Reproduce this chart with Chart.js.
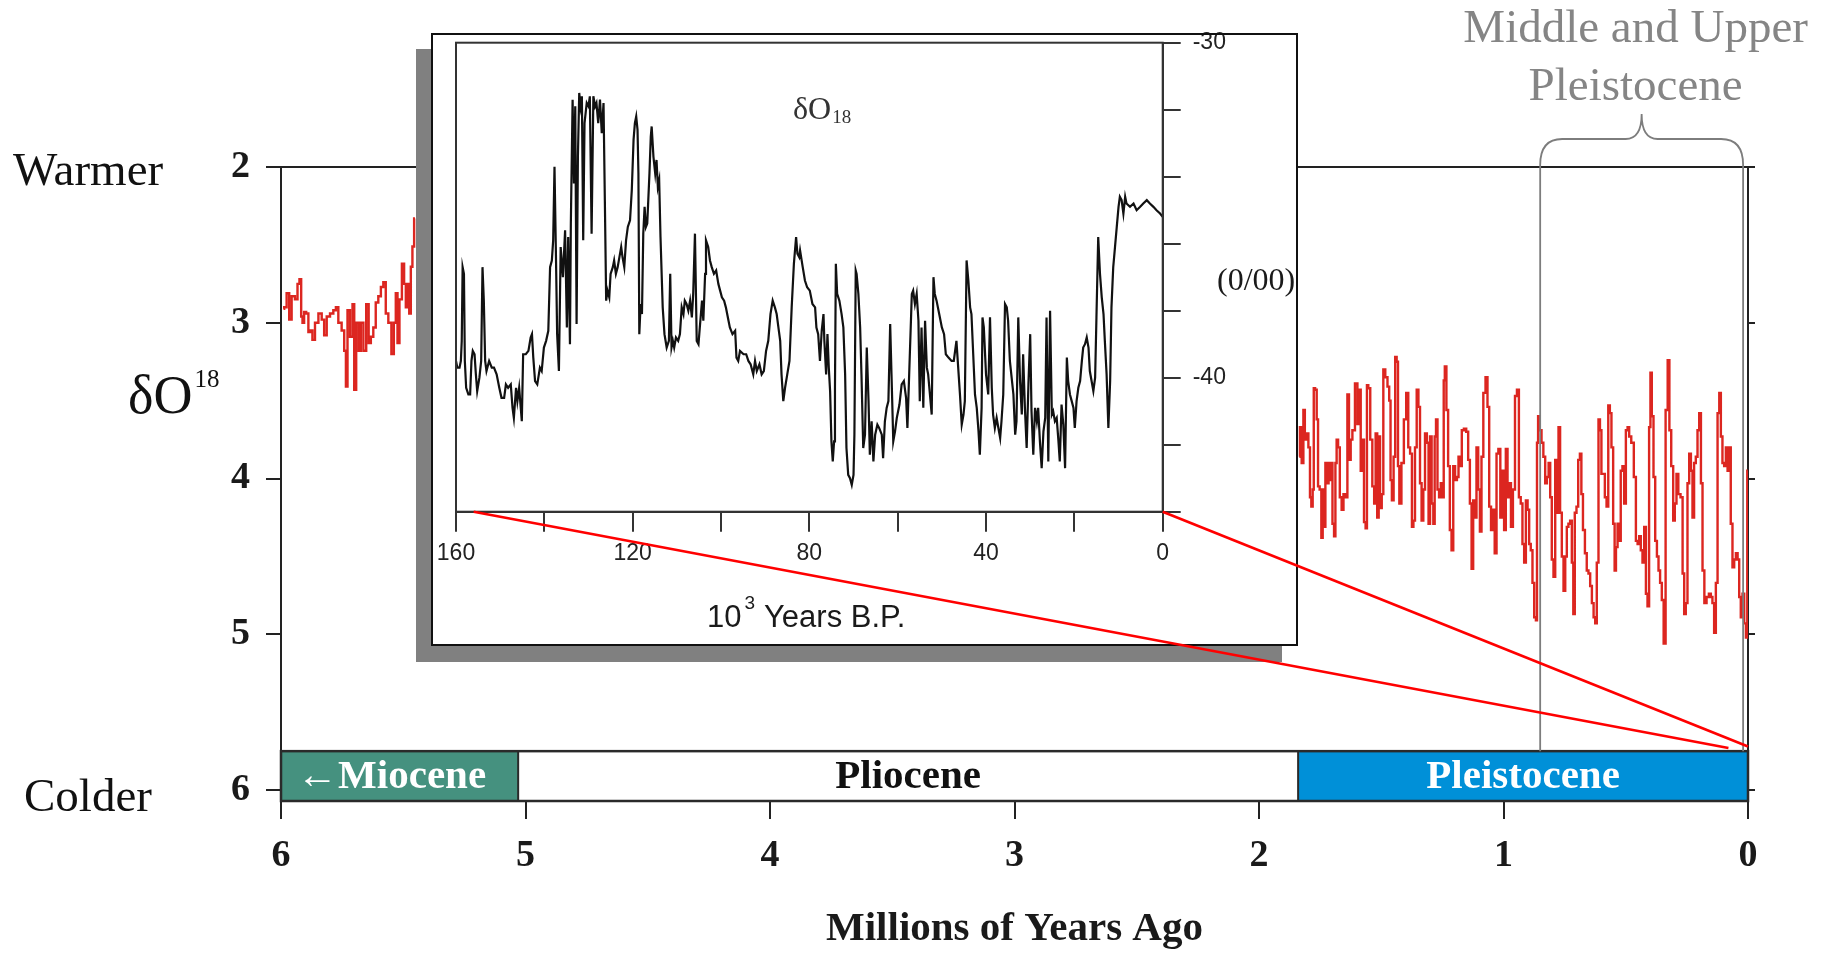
<!DOCTYPE html>
<html lang="en">
<head>
<meta charset="UTF-8">
<title>Deep sea δO18 and ice core δO18</title>
<style>
  html, body { margin: 0; padding: 0; background: #fff; overflow: hidden; }
  #wrap { position: relative; width: 1821px; height: 954px; }
  #wrap canvas { position: absolute; left: 0; top: 0; display: block; }
</style>
</head>
<body>
<div id="wrap">
  <canvas id="mainChart" width="1821" height="954"></canvas>
  <canvas id="insetChart" width="1821" height="954"></canvas>
</div>
<script src="https://cdn.jsdelivr.net/npm/chart.js@4.4.1/dist/chart.umd.min.js"></script>
<script>
// main axis: millions of years ago / deltaO18
const ageTicks = [6, 5, 4, 3, 2, 1, 0];
const deltaTicks = [2, 3, 4, 5, 6];

// epochs on the bar at the bottom
const epochNames = ['\u2190Miocene', 'Pliocene', 'Pleistocene'];
const epochFrom = [6, 5.03, 1.84];
const epochTo = [5.03, 1.84, 0];
const epochFill = ['#45917f', '#ffffff', '#0090d8'];
const epochInk = ['#ffffff', '#111111', '#ffffff'];

// bracket "Middle and Upper Pleistocene" (Ma)
const bracketSpan = [0.85, 0.02];

// inset axes: 10^3 years B.P. / per mil
const iceTicks = [160, 140, 120, 100, 80, 60, 40, 20, 0];
const iceLabels = [160, 120, 80, 40, 0];
const isoTicks = [-44, -42, -40, -38, -36, -34, -32, -30];
const isoLabels = [-40, -30];

// red lines tying the inset to the last part of the record
const zoomFromKyr = [0, 156];
const zoomToMa = [0, 0.08];
const zoomToDelta = [5.72, 5.73];

// deep sea record, [Ma, deltaO18], part left of the inset
const oldRecord = [
  [5.99,2.91],[5.984,2.90],[5.97,2.81],[5.963,2.98],[5.95,2.83],[5.936,2.85],[5.929,2.75],[5.92,2.72],
  [5.915,2.96],[5.909,3.00],[5.902,2.93],[5.892,2.94],[5.884,3.06],[5.875,3.05],[5.868,3.11],[5.854,3.00],
  [5.84,2.94],[5.827,2.98],[5.82,3.08],[5.806,2.96],[5.793,2.94],[5.779,2.92],[5.772,2.90],[5.759,3.00],
  [5.745,3.05],[5.738,3.18],[5.731,3.41],[5.725,2.92],[5.711,3.09],[5.704,2.88],[5.697,3.43],[5.688,3.00],
  [5.677,3.18],[5.67,3.00],[5.656,3.18],[5.647,2.88],[5.636,3.13],[5.629,3.09],[5.616,3.03],[5.609,2.87],
  [5.595,2.83],[5.588,2.77],[5.575,2.74],[5.568,2.94],[5.554,3.00],[5.543,3.20],[5.534,3.00],[5.527,2.81],
  [5.52,3.13],[5.511,2.85],[5.5,2.62],[5.493,2.75],[5.486,2.90],[5.479,2.75],[5.472,2.94],[5.466,2.64],
  [5.459,2.51],[5.452,2.33]
];

// deep sea record, part right of the inset
const youngRecord = [
  [1.835,3.86],[1.830,3.67],[1.821,3.90],[1.816,3.56],[1.809,3.75],[1.802,3.71],[1.794,3.80],[1.789,4.12],
  [1.783,4.18],[1.778,4.07],[1.774,3.42],[1.767,3.43],[1.761,3.62],[1.756,4.05],[1.748,4.07],[1.742,4.38],
  [1.737,4.07],[1.731,4.31],[1.726,3.90],[1.719,4.03],[1.712,3.90],[1.707,4.01],[1.703,3.90],[1.696,4.29],
  [1.690,4.37],[1.685,3.90],[1.680,3.75],[1.673,3.80],[1.666,4.12],[1.658,4.20],[1.651,4.10],[1.641,4.12],
  [1.636,3.46],[1.628,3.88],[1.622,3.75],[1.614,3.69],[1.601,3.39],[1.594,3.65],[1.587,3.43],[1.581,3.95],
  [1.573,3.75],[1.568,4.28],[1.560,4.32],[1.557,3.40],[1.549,3.42],[1.541,3.75],[1.532,4.05],[1.526,4.16],
  [1.520,3.71],[1.513,4.25],[1.508,3.73],[1.502,4.19],[1.494,4.10],[1.489,3.30],[1.478,3.35],[1.471,3.41],
  [1.464,3.50],[1.460,4.01],[1.453,4.14],[1.446,3.86],[1.440,3.22],[1.434,3.25],[1.429,3.92],[1.423,4.16],
  [1.412,3.90],[1.403,3.62],[1.393,3.45],[1.386,3.80],[1.378,3.84],[1.371,4.31],[1.366,4.27],[1.358,3.80],
  [1.352,3.43],[1.344,3.54],[1.339,4.03],[1.331,4.27],[1.325,4.07],[1.317,3.71],[1.310,3.77],[1.303,4.29],
  [1.298,3.73],[1.290,4.16],[1.284,4.29],[1.279,3.73],[1.273,3.62],[1.267,4.07],[1.260,4.12],[1.253,4.03],
  [1.246,4.12],[1.243,3.37],[1.237,3.28],[1.230,3.56],[1.223,3.92],[1.216,4.33],[1.209,4.46],[1.202,3.92],
  [1.194,4.01],[1.187,3.99],[1.181,3.86],[1.174,3.92],[1.167,3.69],[1.157,3.68],[1.148,3.70],[1.141,3.88],
  [1.134,4.16],[1.127,4.58],[1.121,4.14],[1.114,4.25],[1.107,3.80],[1.100,4.07],[1.093,4.34],[1.087,3.86],
  [1.078,3.45],[1.069,3.35],[1.062,3.54],[1.055,4.18],[1.047,4.33],[1.040,4.20],[1.032,4.48],[1.025,3.84],
  [1.017,3.81],[1.009,4.25],[1.001,3.95],[0.994,4.33],[0.987,3.81],[0.980,4.12],[0.973,4.03],[0.966,4.31],
  [0.957,4.07],[0.949,3.47],[0.941,3.43],[0.933,4.12],[0.926,4.16],[0.919,4.42],[0.912,4.54],[0.905,4.14],
  [0.898,4.20],[0.892,4.42],[0.885,4.46],[0.878,4.67],[0.871,4.89],[0.864,4.91],[0.862,3.77],[0.855,3.60],
  [0.848,3.69],[0.841,3.77],[0.833,3.86],[0.826,4.03],[0.819,3.99],[0.812,3.90],[0.806,4.12],[0.799,4.52],
  [0.792,4.63],[0.785,3.88],[0.778,4.22],[0.772,3.67],[0.765,4.22],[0.758,4.50],[0.751,4.72],[0.744,4.50],
  [0.738,4.31],[0.731,4.29],[0.724,4.27],[0.717,4.54],[0.712,4.87],[0.705,4.22],[0.698,4.18],[0.691,3.88],
  [0.684,3.84],[0.679,4.10],[0.671,4.33],[0.663,4.48],[0.656,4.59],[0.649,4.61],[0.642,4.69],[0.635,4.80],
  [0.628,4.89],[0.622,4.93],[0.615,4.54],[0.608,3.62],[0.603,3.69],[0.596,3.97],[0.589,3.97],[0.582,4.12],
  [0.575,4.18],[0.568,3.53],[0.562,3.58],[0.555,3.80],[0.548,4.29],[0.543,4.59],[0.537,4.44],[0.530,4.29],
  [0.524,4.40],[0.517,3.95],[0.510,3.92],[0.503,4.16],[0.496,3.69],[0.489,3.67],[0.483,3.73],[0.472,3.77],
  [0.462,3.99],[0.455,4.40],[0.448,4.42],[0.442,4.37],[0.435,4.46],[0.428,4.54],[0.421,4.31],[0.414,4.74],
  [0.408,4.82],[0.401,3.67],[0.397,3.32],[0.390,3.60],[0.383,3.99],[0.376,4.40],[0.369,4.50],[0.363,4.59],
  [0.356,4.67],[0.349,4.78],[0.341,5.06],[0.333,3.56],[0.324,3.24],[0.319,3.69],[0.309,3.92],[0.303,4.27],
  [0.296,4.16],[0.289,3.97],[0.281,4.10],[0.271,4.12],[0.264,4.61],[0.258,4.87],[0.251,4.80],[0.244,4.03],
  [0.237,3.84],[0.230,3.95],[0.224,4.25],[0.217,3.90],[0.210,3.86],[0.203,3.69],[0.196,3.58],[0.189,4.03],
  [0.183,4.59],[0.174,4.80],[0.165,4.76],[0.155,4.74],[0.149,4.76],[0.142,4.80],[0.135,4.99],[0.128,4.67],
  [0.121,3.58],[0.114,3.45],[0.108,3.73],[0.101,3.90],[0.094,3.92],[0.087,3.80],[0.080,3.95],[0.074,3.80],
  [0.067,4.29],[0.060,4.57],[0.053,4.52],[0.046,4.48],[0.039,4.52],[0.033,4.76],[0.026,4.89],[0.019,4.74],
  [0.012,4.93],[0.005,5.02],[0.001,3.95]
];

// ice core record for the inset, [10^3 years B.P., per mil]
const iceRecord = [
  [160.0,-39.5],[159.7,-39.7],[159.2,-39.7],[158.9,-39.5],[158.7,-38.9],[158.5,-36.7],[158.2,-36.9],[158.0,-39.5],
  [157.7,-40.3],[157.2,-40.5],[156.8,-40.5],[156.5,-39.5],[156.2,-39.2],[155.8,-39.3],[155.5,-39.9],[155.2,-40.4],
  [154.7,-40.0],[154.3,-39.5],[154.0,-36.7],[153.7,-37.7],[153.4,-39.5],[153.1,-39.8],[152.5,-39.5],[151.9,-39.7],
  [151.4,-39.7],[150.8,-39.9],[150.2,-40.3],[149.7,-40.6],[149.1,-40.6],[148.7,-40.2],[148.2,-40.3],[147.6,-40.2],
  [147.2,-40.9],[146.9,-41.2],[146.4,-40.3],[146.1,-40.7],[145.7,-40.3],[145.1,-41.3],[144.8,-39.3],[144.2,-39.3],
  [143.6,-39.2],[143.1,-38.8],[142.8,-38.7],[142.5,-39.4],[142.1,-40.1],[141.6,-40.2],[141.0,-39.7],[140.6,-39.8],
  [140.1,-39.1],[139.6,-38.9],[139.1,-38.6],[138.7,-36.7],[138.3,-36.5],[138.0,-35.9],[137.7,-33.7],[137.4,-36.1],
  [137.1,-38.7],[136.7,-39.8],[136.3,-36.1],[135.8,-37.0],[135.3,-35.6],[134.9,-38.5],[134.6,-35.8],[134.2,-39.0],
  [134.0,-35.4],[133.6,-31.7],[133.3,-34.2],[133.0,-31.9],[132.7,-38.4],[132.4,-33.4],[132.1,-31.5],[131.8,-31.9],
  [131.5,-31.6],[131.2,-35.9],[130.9,-32.4],[130.4,-31.8],[130.0,-31.9],[129.7,-31.6],[129.3,-35.7],[128.9,-31.6],
  [128.5,-31.9],[128.2,-31.8],[127.8,-32.4],[127.4,-31.7],[127.0,-32.7],[126.6,-31.8],[126.3,-34.7],[126.0,-37.7],
  [125.7,-37.4],[125.3,-37.6],[125.0,-36.9],[124.5,-36.7],[124.2,-36.5],[123.8,-36.9],[123.4,-36.7],[123.0,-36.4],
  [122.6,-36.1],[122.3,-36.4],[121.9,-36.7],[121.5,-35.9],[121.1,-35.5],[120.6,-35.3],[120.2,-34.4],[119.8,-32.9],
  [119.5,-32.4],[119.2,-32.2],[118.9,-32.6],[118.7,-33.9],[118.5,-38.7],[118.2,-37.8],[117.9,-38.1],[117.6,-35.7],
  [117.3,-34.9],[117.0,-35.5],[116.7,-35.4],[116.2,-33.9],[115.9,-32.8],[115.7,-32.5],[115.3,-33.4],[114.9,-33.9],
  [114.6,-33.5],[114.3,-34.3],[114.0,-34.1],[113.7,-35.8],[113.2,-37.9],[112.8,-38.7],[112.3,-39.1],[111.8,-38.9],
  [111.5,-36.9],[111.2,-39.1],[110.9,-38.9],[110.6,-39.1],[110.2,-38.8],[109.7,-38.9],[109.3,-38.7],[108.9,-37.9],
  [108.5,-38.1],[108.2,-37.7],[107.8,-37.8],[107.4,-38.0],[107.0,-37.7],[106.6,-38.2],[106.3,-37.5],[105.9,-35.7],
  [105.5,-38.9],[105.1,-39.0],[104.8,-38.5],[104.3,-37.7],[104.0,-38.3],[103.6,-36.9],[103.4,-35.9],[102.9,-36.1],
  [102.5,-36.5],[102.1,-36.7],[101.6,-36.9],[101.1,-36.8],[100.6,-37.2],[100.2,-37.4],[99.8,-37.6],[99.3,-37.7],
  [98.9,-37.9],[98.3,-38.3],[98.0,-38.5],[97.4,-38.7],[96.8,-38.6],[96.5,-39.4],[96.1,-39.5],[95.7,-39.2],
  [94.9,-39.3],[94.3,-39.3],[93.8,-39.5],[93.3,-39.6],[92.7,-39.9],[92.3,-39.5],[91.9,-39.8],[91.3,-39.6],
  [90.8,-39.9],[90.3,-39.8],[89.8,-39.2],[89.3,-38.9],[88.8,-38.1],[88.3,-37.7],[87.8,-37.9],[87.4,-38.1],
  [86.9,-38.6],[86.6,-38.9],[86.3,-39.9],[85.9,-40.7],[85.5,-40.3],[85.0,-39.9],[84.5,-39.5],[84.0,-37.9],
  [83.5,-36.6],[83.0,-35.8],[82.7,-36.3],[82.3,-36.4],[82.1,-36.2],[81.5,-36.7],[81.0,-37.1],[80.5,-37.3],
  [79.9,-37.4],[79.3,-37.8],[78.7,-37.9],[78.4,-38.5],[78.0,-38.7],[77.6,-39.5],[77.2,-38.6],[76.8,-38.1],
  [76.6,-38.9],[76.2,-39.9],[75.9,-38.7],[75.6,-39.7],[75.3,-40.4],[75.0,-41.9],[74.7,-42.5],[74.4,-41.9],
  [74.2,-40.3],[74.0,-36.6],[73.7,-37.5],[73.2,-37.7],[72.7,-38.1],[72.3,-38.5],[71.9,-39.9],[71.6,-42.1],
  [71.2,-42.9],[70.8,-43.0],[70.4,-43.2],[70.0,-42.9],[69.8,-41.7],[69.5,-36.8],[69.3,-36.9],[68.9,-37.5],
  [68.5,-38.5],[68.2,-39.9],[67.8,-42.1],[67.4,-41.7],[67.0,-39.1],[66.6,-40.7],[66.3,-42.3],[65.9,-41.3],
  [65.5,-42.5],[65.1,-41.7],[64.6,-41.4],[64.2,-41.5],[63.6,-41.7],[63.3,-42.4],[62.9,-41.3],[62.5,-40.9],
  [62.1,-40.7],[61.7,-38.4],[61.4,-39.9],[61.0,-41.9],[60.6,-41.6],[60.2,-41.2],[59.6,-40.8],[59.1,-40.2],
  [58.6,-40.1],[58.1,-40.6],[57.8,-41.5],[57.4,-39.9],[56.8,-37.5],[56.5,-37.4],[56.1,-37.8],[55.7,-37.5],
  [55.3,-38.3],[55.0,-40.7],[54.6,-38.5],[54.2,-40.9],[53.8,-38.3],[53.4,-39.7],[53.1,-39.9],[52.7,-40.5],
  [52.3,-41.1],[51.9,-37.0],[51.6,-37.5],[51.2,-37.7],[50.6,-38.1],[50.0,-38.5],[49.5,-38.7],[49.1,-39.3],
  [48.5,-39.4],[47.8,-39.5],[47.3,-39.5],[46.7,-38.9],[46.3,-39.7],[45.9,-40.5],[45.5,-41.4],[45.1,-41.1],
  [44.8,-40.7],[44.4,-36.5],[44.0,-37.1],[43.6,-37.9],[43.3,-38.1],[42.9,-39.3],[42.5,-40.5],[42.1,-40.9],
  [41.7,-41.6],[41.4,-42.3],[41.0,-40.9],[40.8,-38.2],[40.5,-38.5],[40.0,-39.9],[39.5,-40.5],[39.1,-38.2],
  [38.7,-40.3],[38.4,-41.1],[38.0,-41.5],[37.6,-41.2],[37.2,-41.5],[36.8,-41.8],[36.5,-41.3],[36.1,-40.5],
  [35.7,-37.8],[35.3,-37.9],[35.0,-38.3],[34.6,-39.5],[34.2,-40.0],[33.8,-40.5],[33.4,-41.7],[33.1,-41.3],
  [32.7,-38.2],[32.3,-40.1],[31.9,-41.1],[31.6,-39.3],[31.2,-40.9],[30.8,-42.1],[30.4,-40.2],[30.0,-38.7],
  [29.7,-41.0],[29.3,-42.3],[28.9,-40.9],[28.5,-41.3],[28.2,-40.9],[27.8,-41.9],[27.4,-42.7],[27.0,-41.6],
  [26.6,-41.2],[26.3,-38.2],[25.9,-42.5],[25.5,-38.0],[25.1,-41.1],[24.8,-41.0],[24.4,-41.3],[24.0,-41.2],
  [23.6,-41.9],[23.3,-42.5],[22.9,-40.8],[22.5,-41.4],[22.1,-42.7],[21.7,-39.4],[21.4,-40.1],[21.0,-40.5],
  [20.6,-40.7],[20.2,-40.9],[19.9,-41.5],[19.5,-40.7],[19.1,-40.3],[18.7,-40.1],[18.3,-39.5],[18.0,-39.1],
  [17.6,-39.0],[17.2,-38.8],[16.8,-39.1],[16.5,-39.8],[16.1,-40.1],[15.7,-40.4],[15.3,-40.0],[15.0,-38.2],
  [14.6,-35.8],[14.2,-36.9],[13.8,-37.6],[13.4,-38.1],[13.1,-38.9],[12.7,-39.9],[12.3,-41.5],[11.9,-40.1],
  [11.6,-37.9],[11.2,-36.7],[10.8,-36.1],[10.4,-35.5],[10.0,-34.9],[9.7,-34.6],[9.3,-34.7],[8.9,-35.1],
  [8.5,-34.6],[8.2,-34.8],[7.4,-34.9],[6.6,-34.8],[5.9,-35.0],[5.1,-34.9],[4.4,-34.8],[3.6,-34.7],
  [2.9,-34.8],[2.1,-34.9],[1.4,-35.0],[0.6,-35.1],[0.0,-35.2]
];

const SERIF = '"Liberation Serif", "Times New Roman", serif';
const SANS = '"Liberation Sans", Arial, sans-serif';
Chart.defaults.font.family = SERIF;
Chart.defaults.color = '#1a1a1a';

const toPoints = rec => rec.map(p => ({ x: p[0], y: p[1] }));
const fixedTicks = list => scale => { scale.ticks = list.map(v => ({ value: v })); };

const BAR_TOP = 5.75; // top edge of the epoch bar, in deltaO18 units

const mainDecor = {
  id: 'mainDecor',
  beforeDatasetsDraw(chart) {
    const { ctx, chartArea: a, scales: { x, y } } = chart;
    const top = y.getPixelForValue(BAR_TOP);
    const bottom = a.bottom;
    ctx.save();
    epochNames.forEach((name, i) => {
      const x1 = x.getPixelForValue(epochFrom[i]);
      const x2 = x.getPixelForValue(epochTo[i]);
      ctx.fillStyle = epochFill[i];
      ctx.fillRect(x1, top, x2 - x1, bottom - top);
    });
    ctx.strokeStyle = '#2a2a2a';
    ctx.lineWidth = 2.5;
    ctx.strokeRect(a.left, top, a.right - a.left, bottom - top);
    ctx.lineWidth = 2;
    epochFrom.slice(1).forEach(v => {
      const px = x.getPixelForValue(v);
      ctx.beginPath();
      ctx.moveTo(px, top);
      ctx.lineTo(px, bottom);
      ctx.stroke();
    });
    ctx.font = 'bold 41px ' + SERIF;
    ctx.textAlign = 'center';
    ctx.textBaseline = 'middle';
    epochNames.forEach((name, i) => {
      const cx = (x.getPixelForValue(epochFrom[i]) + x.getPixelForValue(epochTo[i])) / 2;
      ctx.fillStyle = epochInk[i];
      ctx.fillText(name, i === 0 ? cx - 8 : cx, (top + bottom) / 2 + 1);
    });
    // top frame line
    ctx.strokeStyle = '#222';
    ctx.lineWidth = 2;
    ctx.beginPath();
    ctx.moveTo(a.left, a.top);
    ctx.lineTo(a.right, a.top);
    ctx.stroke();
    ctx.restore();
  },
  afterDatasetsDraw(chart) {
    const { ctx, scales: { x, y } } = chart;
    const xl = x.getPixelForValue(bracketSpan[0]);
    const xr = x.getPixelForValue(bracketSpan[1]);
    const xm = (xl + xr) / 2;
    const barTop = y.getPixelForValue(BAR_TOP);
    ctx.save();
    ctx.strokeStyle = '#7d7d7d';
    ctx.lineWidth = 1.8;
    ctx.beginPath();
    ctx.moveTo(xl, barTop);
    ctx.lineTo(xl, 165);
    ctx.quadraticCurveTo(xl, 139, xl + 22, 139);
    ctx.lineTo(xm - 16, 139);
    ctx.quadraticCurveTo(xm, 139, xm, 114);
    ctx.quadraticCurveTo(xm, 139, xm + 16, 139);
    ctx.lineTo(xr - 22, 139);
    ctx.quadraticCurveTo(xr, 139, xr, 165);
    ctx.lineTo(xr, barTop);
    ctx.stroke();

    ctx.fillStyle = '#858585';
    ctx.font = '47px ' + SERIF;
    ctx.textAlign = 'center';
    ctx.textBaseline = 'alphabetic';
    ctx.fillText('Middle and Upper', xm - 6, 42);
    ctx.fillText('Pleistocene', xm - 6, 100);
    ctx.restore();
  },
  afterDraw(chart) {
    const { ctx } = chart;
    ctx.save();
    ctx.fillStyle = '#111';
    ctx.textAlign = 'left';
    ctx.textBaseline = 'alphabetic';
    ctx.font = '47px ' + SERIF;
    ctx.fillText('Warmer', 13, 185);
    ctx.fillText('Colder', 24, 811);
    ctx.font = '54px ' + SERIF;
    ctx.fillText('\u03b4O', 128, 413);
    const w = ctx.measureText('\u03b4O').width;
    ctx.font = '25px ' + SERIF;
    ctx.fillText('18', 128 + w + 2, 387);
    ctx.restore();
  }
};

const mainChart = new Chart(document.getElementById('mainChart'), {
  type: 'line',
  data: {
    datasets: [oldRecord, youngRecord].map(rec => ({
      data: toPoints(rec),
      borderColor: '#dc2620',
      borderWidth: 2.4,
      pointRadius: 0,
      stepped: 'middle',
      fill: false
    }))
  },
  options: {
    responsive: false,
    animation: false,
    devicePixelRatio: 1,
    layout: { padding: { top: 167 } },
    plugins: { legend: { display: false }, tooltip: { enabled: false } },
    scales: {
      x: {
        type: 'linear', min: 0, max: 6, reverse: true,
        afterBuildTicks: fixedTicks(ageTicks),
        afterFit: s => { s.height = 153; },
        grid: { drawOnChartArea: false, tickLength: 18, color: '#222', lineWidth: 2 },
        border: { color: '#222', width: 2 },
        ticks: { autoSkip: false, maxRotation: 0, padding: 14, color: '#1a1a1a',
                 font: { size: 38, weight: 'bold' } },
        title: { display: true, text: 'Millions of Years Ago', color: '#1a1a1a',
                 font: { size: 41, weight: 'bold' }, padding: { top: 0, bottom: 0 } }
      },
      y: {
        type: 'linear', position: 'left', min: 2, max: 6.07, reverse: true,
        afterBuildTicks: fixedTicks(deltaTicks),
        afterFit: s => { s.width = 281; },
        grid: { drawOnChartArea: false, tickLength: 15, color: '#222', lineWidth: 2 },
        border: { color: '#222', width: 2 },
        ticks: { autoSkip: false, padding: 16, color: '#1a1a1a', font: { size: 38, weight: 'bold' } }
      },
      yRight: {
        type: 'linear', position: 'right', min: 2, max: 6.07, reverse: true,
        afterBuildTicks: fixedTicks(deltaTicks),
        afterFit: s => { s.width = 73; },
        grid: { drawOnChartArea: false, tickLength: 7, color: '#222', lineWidth: 2 },
        border: { color: '#222', width: 2 },
        ticks: { display: false }
      }
    }
  },
  plugins: [mainDecor]
});

const insetDecor = {
  id: 'insetDecor',
  box(a) {
    return { l: a.left - 24, t: a.top - 8.7, r: a.right + 134.3, b: a.bottom + 133.3 };
  },
  beforeDraw(chart) {
    const { ctx, chartArea: a } = chart;
    const b = this.box(a);
    ctx.save();
    ctx.fillStyle = '#808080';
    ctx.fillRect(b.l - 16, b.t + 15, b.r - b.l + 1, b.b - b.t + 2);
    ctx.fillStyle = '#ffffff';
    ctx.fillRect(b.l, b.t, b.r - b.l, b.b - b.t);
    ctx.restore();
  },
  afterDraw(chart) {
    const { ctx, chartArea: a, scales: { x, y } } = chart;
    const b = this.box(a);
    ctx.save();
    ctx.strokeStyle = '#333';
    ctx.lineWidth = 2;
    ctx.strokeRect(a.left, a.top, a.right - a.left, a.bottom - a.top);

    ctx.fillStyle = '#333';
    ctx.textAlign = 'left';
    ctx.textBaseline = 'alphabetic';
    ctx.font = '32px ' + SERIF;
    ctx.fillText('\u03b4O', 793, 119);
    let w = ctx.measureText('\u03b4O').width;
    ctx.font = '19px ' + SERIF;
    ctx.fillText('18', 793 + w + 1, 123);

    ctx.fillStyle = '#1a1a1a';
    ctx.font = '32px ' + SERIF;
    ctx.fillText('(0/00)', 1217, 290);

    ctx.font = '31px ' + SANS;
    ctx.fillText('10', 707, 627);
    w = ctx.measureText('10').width;
    ctx.font = '19px ' + SANS;
    ctx.fillText('3', 707 + w + 3, 609);
    ctx.font = '31px ' + SANS;
    ctx.fillText('Years B.P.', 764, 627);

    ctx.strokeStyle = '#111';
    ctx.lineWidth = 2;
    ctx.strokeRect(b.l, b.t, b.r - b.l, b.b - b.t);

    // red lines from the inset to the recent end of the record
    const mx = mainChart.scales.x, my = mainChart.scales.y;
    ctx.strokeStyle = '#ff0000';
    ctx.lineWidth = 2.6;
    zoomFromKyr.forEach((k, i) => {
      ctx.beginPath();
      ctx.moveTo(x.getPixelForValue(k), y.getPixelForValue(-44));
      ctx.lineTo(mx.getPixelForValue(zoomToMa[i]), my.getPixelForValue(zoomToDelta[i]));
      ctx.stroke();
    });
    ctx.restore();
  }
};

new Chart(document.getElementById('insetChart'), {
  type: 'line',
  data: {
    datasets: [{
      data: toPoints(iceRecord),
      borderColor: '#111',
      borderWidth: 2.2,
      pointRadius: 0,
      tension: 0,
      fill: false
    }]
  },
  options: {
    responsive: false,
    animation: false,
    devicePixelRatio: 1,
    layout: { padding: { left: 456, top: 42.7 } },
    plugins: { legend: { display: false }, tooltip: { enabled: false } },
    scales: {
      x: {
        type: 'linear', min: 0, max: 160, reverse: true,
        afterBuildTicks: fixedTicks(iceTicks),
        afterFit: s => { s.height = 442.3; },
        grid: { drawOnChartArea: false, tickLength: 20, color: '#333', lineWidth: 2 },
        border: { color: '#333', width: 2 },
        ticks: { autoSkip: false, maxRotation: 0, padding: 8, color: '#222',
                 font: { family: SANS, size: 23 },
                 callback: v => iceLabels.includes(v) ? String(v) : '' }
      },
      y: {
        type: 'linear', position: 'right', min: -44, max: -30,
        afterBuildTicks: fixedTicks(isoTicks),
        afterFit: s => { s.width = 658.3; },
        grid: { drawOnChartArea: false, tickLength: 18, color: '#333', lineWidth: 2 },
        border: { color: '#333', width: 2 },
        ticks: { autoSkip: false, padding: 12, color: '#222',
                 font: { family: SANS, size: 23 },
                 callback: v => isoLabels.includes(v) ? String(v) : '' }
      }
    }
  },
  plugins: [insetDecor]
});
</script>
</body>
</html>
